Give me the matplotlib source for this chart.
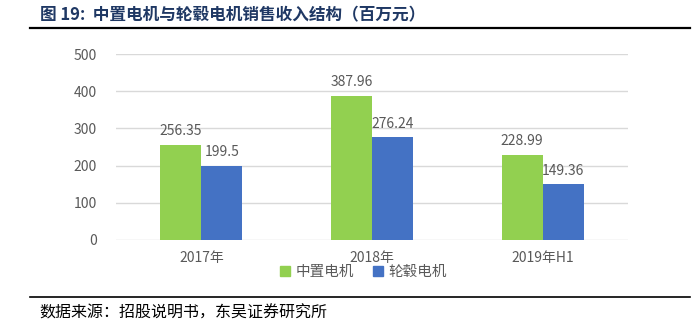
import numpy as np
import matplotlib.pyplot as plt
from matplotlib.lines import Line2D

plt.rcParams['font.family'] = ['Noto Sans CJK SC', 'DejaVu Sans']

years = ['2017年', '2018年', '2019年H1']
mid_motor = [256.35, 387.96, 228.99]
hub_motor = [199.5, 276.24, 149.36]
labels_mid = ['256.35', '387.96', '228.99']
labels_hub = ['199.5', '276.24', '149.36']

green = '#92D050'
blue = '#4472C4'
grey = '#595959'

fig = plt.figure(figsize=(6.97, 3.33), dpi=100)
ax = fig.add_axes([0.1664, 0.2793, 0.7346, 0.5585])

x = np.arange(len(years))
w = 0.24
b1 = ax.bar(x - w / 2, mid_motor, w, color=green, label='中置电机', zorder=3)
b2 = ax.bar(x + w / 2, hub_motor, w, color=blue, label='轮毂电机', zorder=3)

for bars, texts in ((b1, labels_mid), (b2, labels_hub)):
    for rect, txt in zip(bars, texts):
        ax.text(rect.get_x() + rect.get_width() / 2, rect.get_height() + 18, txt,
                ha='center', va='bottom', fontsize=10, color=grey)

ax.set_xlim(-0.5, 2.5)
ax.set_ylim(0, 500)
ax.set_yticks(range(0, 501, 100))
ax.set_xticks(x)
ax.set_xticklabels(years)
ax.yaxis.grid(True, color='#D9D9D9', linewidth=1, zorder=0)
ax.tick_params(axis='both', length=0, labelsize=10, labelcolor=grey)
ax.tick_params(axis='y', pad=14)
ax.tick_params(axis='x', pad=8)
for s in ax.spines.values():
    s.set_visible(False)

handles = [Line2D([], [], marker='s', color='none', markerfacecolor=green, markeredgecolor=green, markersize=7),
           Line2D([], [], marker='s', color='none', markerfacecolor=blue, markeredgecolor=blue, markersize=7)]
fig.legend(handles, ['中置电机', '轮毂电机'], loc='center', bbox_to_anchor=(0.52, 0.183), ncol=2,
           frameon=False, fontsize=10.5, labelcolor=grey, handletextpad=0.2, columnspacing=1.2,
           handlelength=1.0)

# header and footer
fig.text(0.057, 0.955, '图 19:  中置电机与轮毂电机销售收入结构（百万元）', fontsize=12,
         fontweight='bold', color='#1F3864', va='center', ha='left')
fig.add_artist(Line2D([0.043, 0.99], [0.916, 0.916], color='black', linewidth=1.6))
fig.add_artist(Line2D([0.043, 0.99], [0.108, 0.108], color='black', linewidth=1.2))
fig.text(0.057, 0.06, '数据来源：招股说明书，东吴证券研究所', fontsize=11.5, color='black',
         va='center', ha='left')

fig.savefig('out.png', dpi=100)
